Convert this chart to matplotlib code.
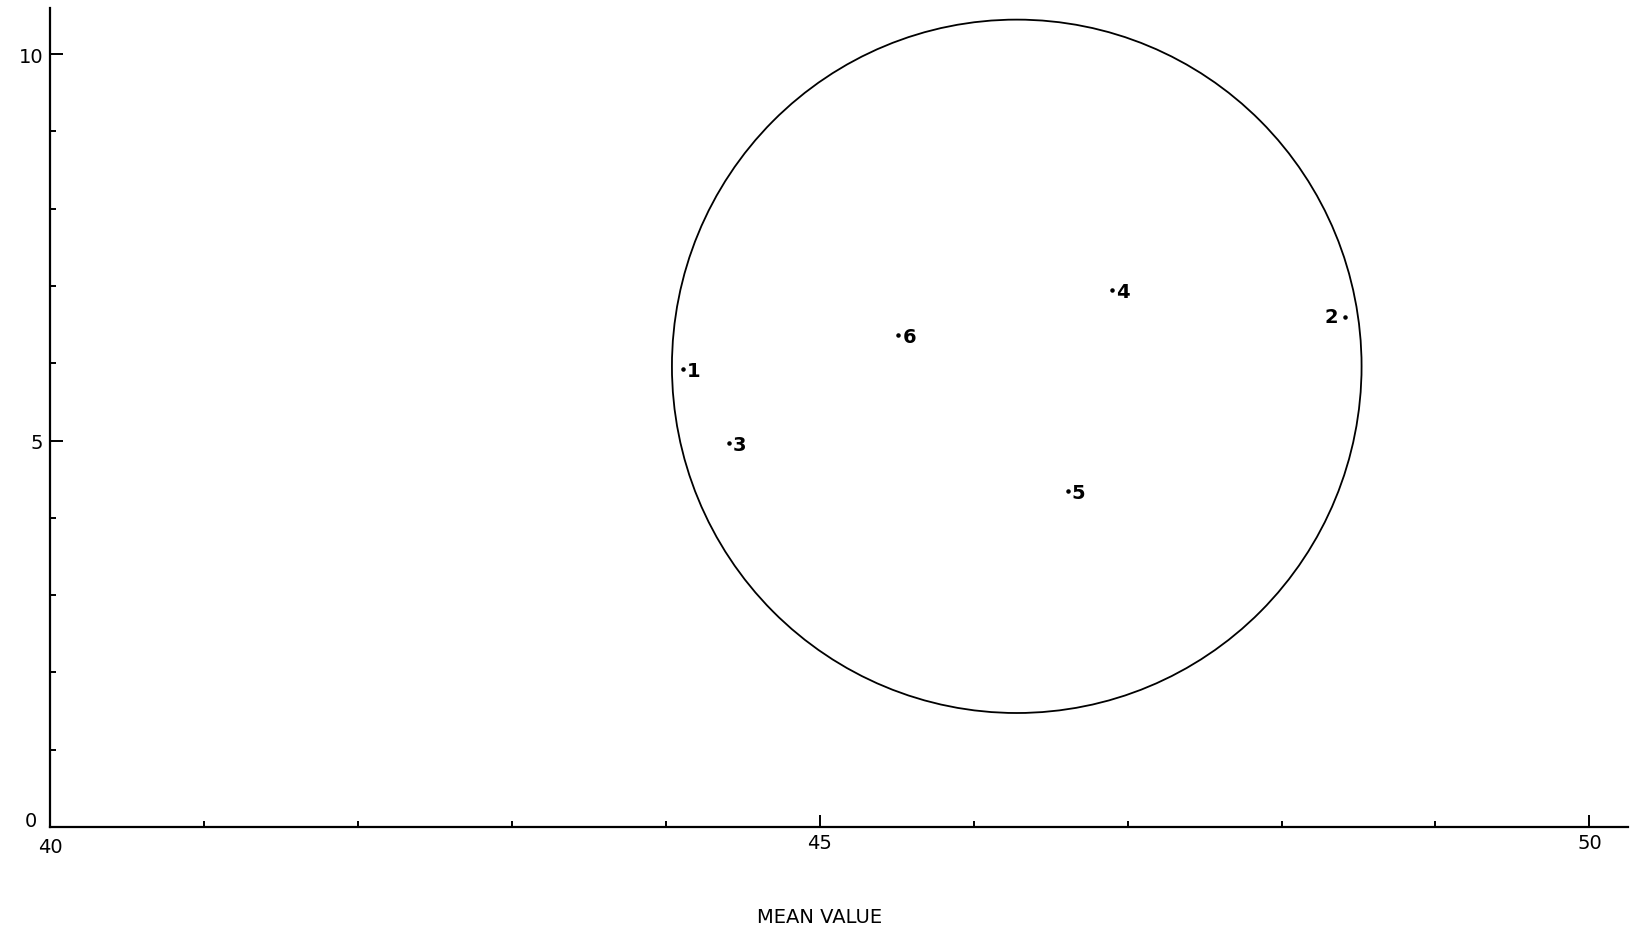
import matplotlib
matplotlib.use("Agg")
import matplotlib.pyplot as plt
from matplotlib.patches import Ellipse

# points
labels = ["1", "2", "3", "4", "5", "6"]
mean_x = [44.11, 48.41, 44.41, 46.90, 46.61, 45.51]
y_val = [5.93, 6.60, 4.97, 6.95, 4.35, 6.37]

# enclosing circle (centre, extent in data units)
circ_x, circ_y = 46.28, 5.96
circ_w, circ_h = 4.48, 8.97

x_major = [45, 50]
x_minor = [41, 42, 43, 44, 46, 47, 48, 49]
y_major = [5, 10]
y_minor = [1, 2, 3, 4, 6, 7, 8, 9]

plt.rcParams["font.family"] = "DejaVu Sans"

fig = plt.figure(figsize=(16.3, 9.29), dpi=100)
ax = fig.add_axes([0.0307, 0.1087, 0.968, 0.882])
ax.set_xlim(40, 50.25)
ax.set_ylim(0, 10.6)

for s in ["top", "right"]:
    ax.spines[s].set_visible(False)
for s in ["left", "bottom"]:
    ax.spines[s].set_linewidth(1.6)

ax.add_patch(Ellipse((circ_x, circ_y), circ_w, circ_h, fill=False,
                     edgecolor="black", linewidth=1.3))

ax.scatter(mean_x, y_val, s=5, color="black", zorder=3)
for lab, x, y in zip(labels, mean_x, y_val):
    if lab == "2":
        ax.annotate(lab, (x, y), xytext=(-5, 0), textcoords="offset points",
                    ha="right", va="center", fontsize=14, fontweight="bold")
    else:
        ax.annotate(lab, (x, y), xytext=(3, -1), textcoords="offset points",
                    ha="left", va="center", fontsize=14, fontweight="bold")

ax.set_xticks(x_major)
ax.set_xticklabels(["45", "50"])
ax.set_xticks(x_minor, minor=True)
ax.set_yticks(y_major)
ax.set_yticklabels(["5", "10"])
ax.set_yticks(y_minor, minor=True)
ax.tick_params(axis="both", which="major", direction="in", length=9,
               width=1.4, labelsize=14)
ax.tick_params(axis="both", which="minor", direction="in", length=4,
               width=1.4)
ax.tick_params(axis="y", which="major", pad=5)
ax.tick_params(axis="x", which="major", pad=4)

# origin labels
ax.text(-0.008, -0.004, "0", transform=ax.transAxes, ha="right", va="bottom",
        fontsize=14)
ax.text(0.0, -0.012, "40", transform=ax.transAxes, ha="center", va="top",
        fontsize=14)

ax.set_xlabel("MEAN VALUE", fontsize=14, labelpad=40)
ax.xaxis.set_label_coords(0.488, -0.098)

fig.savefig("out.png", dpi=100, facecolor="white")
